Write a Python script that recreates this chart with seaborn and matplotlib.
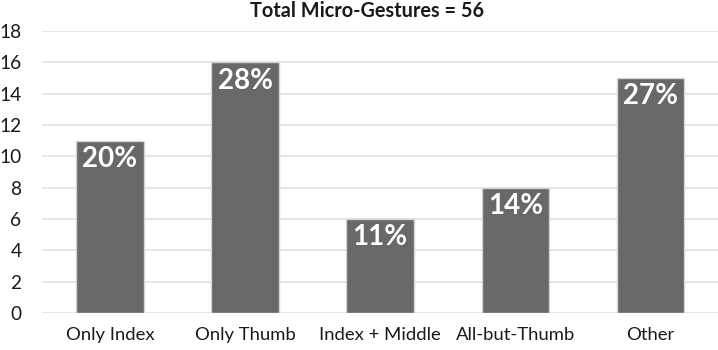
import matplotlib
matplotlib.use('Agg')
import matplotlib.pyplot as plt
import seaborn as sns
import pandas as pd

# data
categories = ['Only Index', 'Only Thumb', 'Index + Middle', 'All-but-Thumb', 'Other']
counts = [11, 16, 6, 8, 15]
percent_labels = ['20%', '28%', '11%', '14%', '27%']
y_ticks = [0, 2, 4, 6, 8, 10, 12, 14, 16, 18]

df = pd.DataFrame({'gesture': categories, 'count': counts})

sns.set_style('white')
plt.rcParams['font.family'] = ['Lato', 'DejaVu Sans']

fig = plt.figure(figsize=(7.18, 3.5), dpi=100)
ax = fig.add_axes([0.059, 0.106, 0.941, 0.805])

sns.barplot(data=df, x='gesture', y='count', color='#68686b', width=0.5,
            edgecolor='#d4d4d6', linewidth=1.0, saturation=1, ax=ax, zorder=3)

ax.set_ylim(0, 18)
ax.set_yticks(y_ticks)
ax.yaxis.grid(True, color='#e2e2e2', linewidth=1.2, zorder=0)
ax.set_axisbelow(True)
for s in ax.spines.values():
    s.set_visible(False)

ax.set_xlabel('')
ax.set_ylabel('')
ax.tick_params(axis='y', length=0, pad=15, labelsize=13.8, labelcolor='#1a1a1a')
ax.tick_params(axis='x', length=0, pad=10, labelsize=13.3, labelcolor='#1a1a1a')

# percentage labels inside the bars
for i, (c, lab) in enumerate(zip(counts, percent_labels)):
    ax.annotate(lab, xy=(i, c), xytext=(0, -13), textcoords='offset points',
                ha='center', va='center', color='white', fontsize=20,
                fontweight='bold', zorder=4)

fig.text(367 / 718, 1 - 11 / 350, 'Total Micro-Gestures = 56', ha='center',
         va='center', fontsize=14.3, fontweight='bold', color='#1a1a1a')

fig.savefig('out.png', dpi=100)
